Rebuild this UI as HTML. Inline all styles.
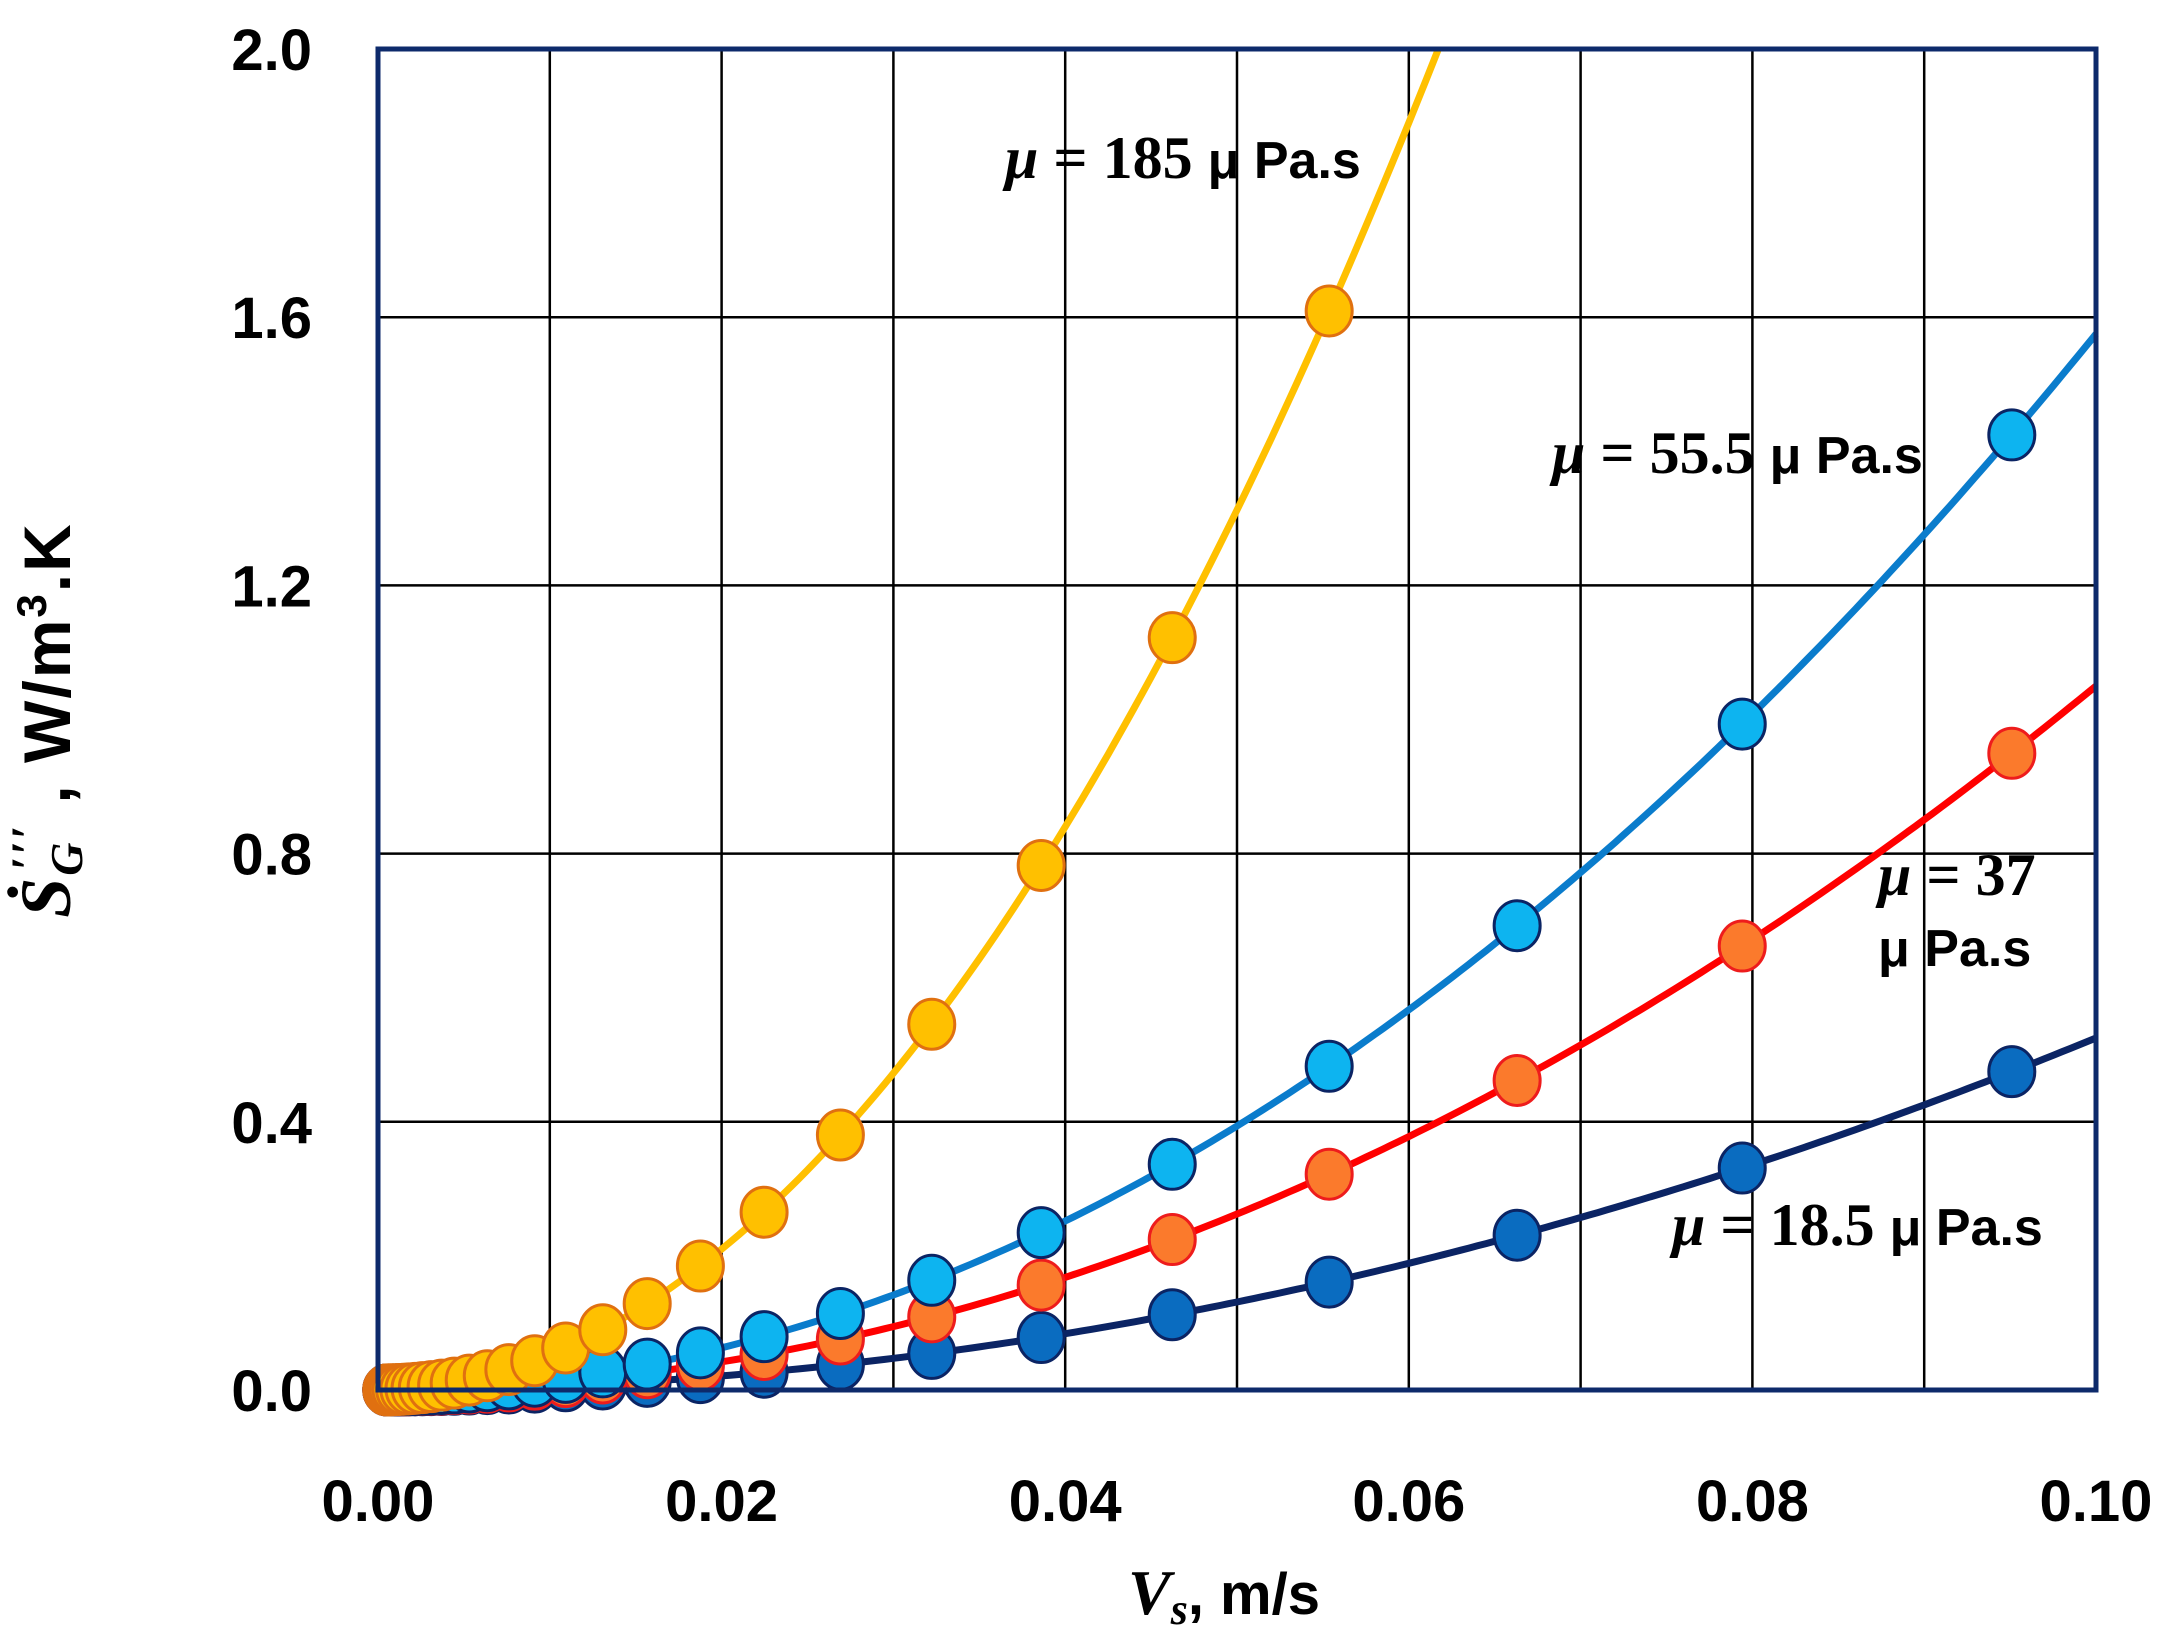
<!DOCTYPE html>
<html><head><meta charset="utf-8"><style>
html,body{margin:0;padding:0;background:#fff;}
svg{display:block;}
.t{font-family:"Liberation Sans",sans-serif;font-weight:bold;fill:#000;}
.s{font-family:"Liberation Serif",serif;font-weight:bold;fill:#000;}
</style></head><body>
<svg id="c" width="2173" height="1650" viewBox="0 0 2173 1650" xmlns="http://www.w3.org/2000/svg">
<g id="grid" stroke="#000" stroke-width="2.5"></g>
<g id="series"></g>
<rect x="378" y="49" width="1718" height="1341" fill="none" stroke="#0d2a6b" stroke-width="5"/>
<g id="labels" class="t" font-size="58"></g>
<text class="s" font-size="64" x="1128" y="1614" font-style="italic">V<tspan font-size="44" dy="10">s</tspan><tspan dy="-10" font-style="normal" class="t" font-family="Liberation Sans" font-size="58">, m/s</tspan></text>
<g transform="translate(70,720) rotate(-90)">
<text text-anchor="middle" class="t" font-size="66" letter-spacing="2"><tspan font-family="Liberation Serif" font-style="italic" font-size="72">Ṡ</tspan><tspan font-family="Liberation Serif" font-style="italic" font-size="46" dy="12">G</tspan><tspan font-family="Liberation Serif" font-style="italic" font-size="48" dy="-38" dx="-30">′′′</tspan><tspan dy="26"> , W/m</tspan><tspan font-size="42" dy="-24">3</tspan><tspan dy="24">.K</tspan></text>
</g>
<text class="s" font-size="60" x="1005" y="178"><tspan font-style="italic">μ</tspan> = 185 <tspan class="t" font-family="Liberation Sans" font-size="52">μ Pa.s</tspan></text>
<text class="s" font-size="60" x="1552" y="473"><tspan font-style="italic">μ</tspan> = 55.5 <tspan class="t" font-family="Liberation Sans" font-size="52">μ Pa.s</tspan></text>
<text class="s" font-size="60" x="1878" y="895"><tspan font-style="italic">μ</tspan> = 37</text>
<text class="t" font-size="52" x="1878" y="966">μ Pa.s</text>
<text class="s" font-size="60" x="1672" y="1245"><tspan font-style="italic">μ</tspan> = 18.5 <tspan class="t" font-family="Liberation Sans" font-size="52">μ Pa.s</tspan></text>
</svg>
<script>
var NS="http://www.w3.org/2000/svg";
var X0=378,X1=2096,Y0=1390,Y1=49;
function px(v){return X0+(X1-X0)*v/0.1;}
function py(v){return Y0-(Y0-Y1)*v/2.0;}
function el(p,n,a){var e=document.createElementNS(NS,n);for(var k in a)e.setAttribute(k,a[k]);p.appendChild(e);return e;}
var g=document.getElementById("grid"),L=document.getElementById("labels");
for(var i=1;i<10;i++){var x=px(i*0.01);el(g,"line",{x1:x,x2:x,y1:Y1,y2:Y0});}
for(var j=1;j<5;j++){var y=py(j*0.4);el(g,"line",{x1:X0,x2:X1,y1:y,y2:y});}
var yl=["0.0","0.4","0.8","1.2","1.6","2.0"];
for(var j=0;j<6;j++){var t=el(L,"text",{x:312,y:py(j*0.4)+21,"text-anchor":"end"});t.textContent=yl[j];}
var xl=["0.00","0.02","0.04","0.06","0.08","0.10"];
for(var i=0;i<6;i++){var t=el(L,"text",{x:px(i*0.02),y:1521,"text-anchor":"middle"});t.textContent=xl[i];}
var S=document.getElementById("series");
var ser=[{a:52.5,line:"#0b2464",fill:"#0a6cc0",st:"#0b2464"},
{a:105,line:"#ff0000",fill:"#fb7a2c",st:"#ee1c1c"},
{a:157.5,line:"#0a7ccc",fill:"#0db4f0",st:"#0b2464"},
{a:525,line:"#ffc000",fill:"#ffc000",st:"#e07010"}];
var xs=[];for(var k=0;k<30;k++){xs.push(0.0951*Math.pow(0.835,k));}
ser.forEach(function(s){
 var d="";for(var n=0;n<=200;n++){var v=n*0.0005;var yv=s.a*v*v;if(yv>2.0)break;d+=(d?"L":"M")+px(v).toFixed(1)+","+py(yv).toFixed(1);}
 if(s.a==525){var vm=Math.sqrt(2/525);d+="L"+px(vm).toFixed(1)+","+py(2).toFixed(1);}
 el(S,"path",{d:d,fill:"none",stroke:s.line,"stroke-width":7});
});
ser.forEach(function(s){
 for(var k=xs.length-1;k>=0;k--){var v=xs[k],yv=s.a*v*v;if(yv>2)continue;
  el(S,"ellipse",{cx:px(v),cy:py(yv),rx:23,ry:25,fill:s.fill,stroke:s.st,"stroke-width":3});}
});
</script>
</body></html>
